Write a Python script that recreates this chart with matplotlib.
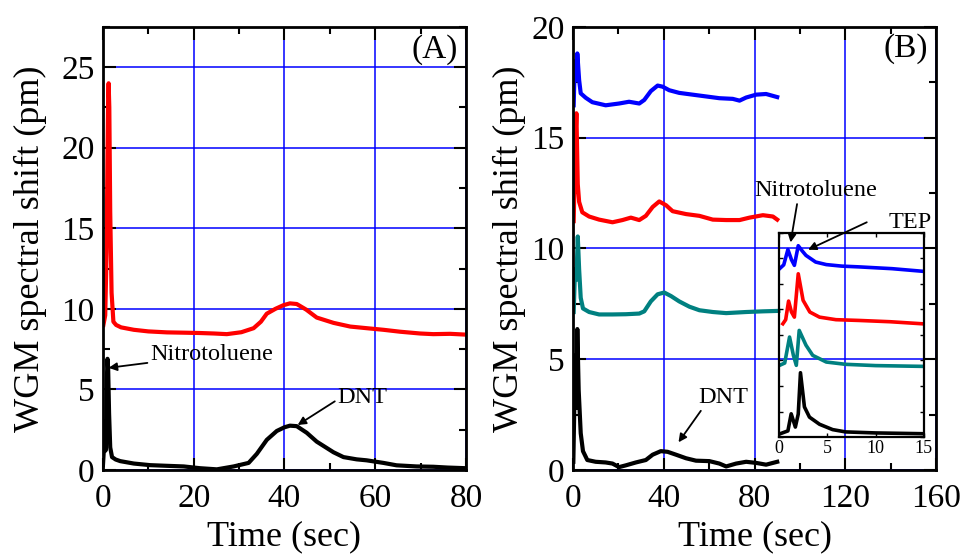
import matplotlib
matplotlib.use("Agg")
import matplotlib.pyplot as plt
from matplotlib.ticker import MultipleLocator, NullFormatter

plt.rcParams['font.family'] = ['Liberation Serif', 'DejaVu Serif']
plt.rcParams['mathtext.fontset'] = 'stix'

# ---------------- Panel A data ----------------
a_red_x = [0.1, 0.5, 0.8, 1.0, 1.15, 1.25, 1.4, 1.6, 1.9, 2.3, 2.9, 4.0, 6.8, 10, 14.1, 18, 21.4, 24.5, 27.3,
           30.5, 33.2, 34.8, 36.1, 38.0, 39.8, 41.2, 42.7, 44.8, 47.1, 50.8, 54.5, 58.1, 61.8, 65.5, 69.9, 72.8, 76.5, 80]
a_red_y = [9.0, 9.6, 13.5, 19.5, 23.2, 24.0, 22.5, 16.0, 11.0, 9.2, 9.0, 8.85, 8.7, 8.6, 8.54, 8.52, 8.5, 8.47, 8.43,
           8.55, 8.8, 9.2, 9.7, 10.0, 10.23, 10.34, 10.3, 9.95, 9.46, 9.13, 8.9, 8.8, 8.7, 8.58, 8.47, 8.43, 8.45, 8.4]

a_blk_x = [0.0, 0.25, 0.4, 0.55, 0.7, 0.85, 1.0, 1.15, 1.35, 1.6, 2.0, 2.8, 3.8, 6.8, 10.4, 14, 17.8, 21.4, 25.1, 28.8,
           32.1, 33.9, 36.1, 38.3, 40.0, 41.2, 42.7, 44.9, 47.1, 50.8, 53.0, 55.9, 58.1, 61.8, 64.7, 69.1, 72.8, 76, 80]
a_blk_y = [0.3, 1.5, 3.0, 1.2, 2.5, 5.5, 6.9, 6.2, 3.5, 1.4, 0.8, 0.65, 0.55, 0.4, 0.3, 0.26, 0.22, 0.11, 0.04, 0.22,
           0.44, 1.0, 1.87, 2.42, 2.65, 2.75, 2.72, 2.31, 1.76, 1.1, 0.8, 0.66, 0.6, 0.44, 0.29, 0.22, 0.2, 0.15, 0.11]

# ---------------- Panel B data ----------------
b_blue_x = [0.3, 0.7, 1.2, 1.5, 1.9, 2.7, 3.4, 5.6, 8.5, 14.4, 20.3, 24.7, 29.2, 31.4, 34.3, 37.3, 39.5, 42.4, 46.8,
            52.7, 58.6, 64.5, 70.4, 73.4, 76.3, 80.7, 85.1, 90]
b_blue_y = [16.46, 18.07, 18.47, 17.6, 18.8, 17.6, 17.0, 16.8, 16.6, 16.46, 16.54, 16.62, 16.54, 16.7, 17.1, 17.35,
            17.3, 17.14, 17.02, 16.94, 16.86, 16.78, 16.75, 16.67, 16.81, 16.94, 16.97, 16.83]

b_red_x = [0.3, 0.7, 1.1, 1.5, 2.1, 2.7, 4.1, 7.1, 11.5, 17.4, 21.8, 25.5, 29.2, 32.1, 35.1, 38.0, 41.0, 43.9, 49.8,
           55.7, 61.6, 67.5, 73.4, 77.8, 83.7, 88.1, 90]
b_red_y = [11.23, 13.2, 15.0, 16.1, 12.9, 12.1, 11.63, 11.44, 11.3, 11.18, 11.28, 11.39, 11.28, 11.47, 11.87, 12.12,
           11.95, 11.68, 11.55, 11.47, 11.3, 11.28, 11.28, 11.39, 11.5, 11.44, 11.3]

b_teal_x = [0.3, 0.9, 1.5, 2.1, 2.7, 3.4, 4.4, 7.1, 11.5, 17.4, 23.3, 29.2, 31.4, 34.3, 37.3, 40.2, 43.2, 46.8, 51.3,
            55.7, 61.6, 67.5, 76.3, 83.7, 90.5]
b_teal_y = [7.13, 9.06, 8.58, 10.54, 9.06, 7.77, 7.29, 7.13, 7.02, 7.02, 7.03, 7.06, 7.16, 7.61, 7.93, 8.01, 7.85,
            7.61, 7.37, 7.21, 7.13, 7.08, 7.13, 7.16, 7.18]

b_blk_x = [0.15, 0.7, 1.2, 1.5, 1.9, 2.5, 3.4, 4.4, 6.3, 10, 14.4, 17.4, 20.3, 23.3, 27.7, 32.1, 35.1, 38.7, 41.7,
           45.4, 49.8, 54.2, 60.1, 64.5, 67.5, 71.9, 76.3, 80.7, 85.1, 90]
b_blk_y = [0.37, 3.6, 5.2, 2.8, 6.36, 3.6, 1.66, 0.85, 0.45, 0.37, 0.34, 0.29, 0.13, 0.21, 0.34, 0.45, 0.69, 0.85,
           0.82, 0.69, 0.53, 0.42, 0.4, 0.29, 0.16, 0.29, 0.37, 0.32, 0.24, 0.37]

# ---------------- Inset data ----------------
i_blue_x = [0.07, 0.5, 0.93, 1.3, 1.6, 2.0, 2.4, 2.8, 3.8, 4.9, 6.5, 8.3, 11.7, 14.8]
i_blue_y = [6.6, 6.75, 7.35, 6.95, 6.73, 7.5, 7.3, 7.12, 6.86, 6.76, 6.7, 6.67, 6.6, 6.5]
i_red_x = [0.41, 0.7, 1.0, 1.3, 1.6, 2.0, 2.5, 3.2, 4.2, 5.9, 8.3, 11.5, 14.8]
i_red_y = [4.44, 4.6, 5.33, 4.9, 4.7, 6.4, 5.36, 4.9, 4.7, 4.6, 4.57, 4.52, 4.44]
i_teal_x = [0.07, 0.6, 1.1, 1.5, 1.8, 2.1, 2.8, 3.5, 4.9, 6.9, 10, 14.8]
i_teal_y = [2.81, 2.9, 3.92, 3.2, 2.81, 4.18, 3.6, 3.2, 2.94, 2.85, 2.8, 2.77]
i_blk_x = [0.14, 0.93, 1.27, 1.7, 2.0, 2.23, 2.64, 3.16, 4.2, 5.56, 6.9, 10, 14.8]
i_blk_y = [0.13, 0.24, 0.91, 0.39, 0.9, 2.52, 1.18, 0.78, 0.5, 0.29, 0.2, 0.16, 0.13]

TEAL = '#008080'
GRID = '#0000ff'
LW = 3.0

fig = plt.figure(figsize=(9.64, 5.56), dpi=100)
axA = fig.add_axes([0.1068, 0.1547, 0.3766, 0.797])
axB = fig.add_axes([0.5944, 0.1547, 0.3766, 0.797])


def style_main(ax, ylabelpad):
    for s in ax.spines.values():
        s.set_linewidth(2.0)
    ax.tick_params(which='both', direction='in', top=True, right=True, width=1.5)
    ax.tick_params(which='major', length=9, labelsize=24, pad=6)
    ax.tick_params(axis='x', which='major', pad=10)
    ax.tick_params(which='minor', length=5)
    ax.grid(True, which='major', color=GRID, linewidth=1.1)
    ax.set_axisbelow(True)
    ax.set_xlabel('Time (sec)', fontsize=26, labelpad=4)
    ax.set_ylabel('WGM spectral shift (pm)', fontsize=26, labelpad=ylabelpad)


# Panel A
axA.plot(a_red_x, a_red_y, color='red', lw=LW)
axA.plot(a_blk_x, a_blk_y, color='black', lw=LW)
axA.set_xlim(0, 80)
axA.set_ylim(0, 27.5)
axA.xaxis.set_major_locator(MultipleLocator(20))
axA.xaxis.set_minor_locator(MultipleLocator(10))
axA.yaxis.set_major_locator(MultipleLocator(5))
axA.yaxis.set_minor_locator(MultipleLocator(2.5))
style_main(axA, 10)
axA.text(68, 26.1, '(A)', fontsize=24, ha='left', va='center')
axA.annotate('Nitrotoluene', xy=(1.25, 6.34), xytext=(10.4, 7.15), fontsize=17.5, ha='left', va='center',
             arrowprops=dict(arrowstyle='-|>', color='black', lw=1.3, mutation_scale=12, shrinkA=0, shrinkB=0))
axA.annotate('DNT', xy=(42.9, 2.79), xytext=(51.7, 4.5), fontsize=17.5, ha='left', va='center',
             arrowprops=dict(arrowstyle='-|>', color='black', lw=1.3, mutation_scale=12, shrinkA=0, shrinkB=0,
                             relpos=(0, 0.4)))

# Panel B
axB.plot(b_blue_x, b_blue_y, color='blue', lw=LW)
axB.plot(b_red_x, b_red_y, color='red', lw=LW)
axB.plot(b_teal_x, b_teal_y, color=TEAL, lw=LW)
axB.plot(b_blk_x, b_blk_y, color='black', lw=LW)
axB.set_xlim(0, 160)
axB.set_ylim(0, 20)
axB.xaxis.set_major_locator(MultipleLocator(40))
axB.xaxis.set_minor_locator(MultipleLocator(20))
axB.yaxis.set_major_locator(MultipleLocator(5))
axB.yaxis.set_minor_locator(MultipleLocator(2.5))
style_main(axB, 4)
axB.text(137, 19.0, '(B)', fontsize=24, ha='left', va='center')
axB.annotate('Nitrotoluene', xy=(95.9, 10.27), xytext=(80, 12.6), fontsize=17.5, ha='left', va='center',
             arrowprops=dict(arrowstyle='-|>', color='black', lw=1.3, mutation_scale=12, shrinkA=0, shrinkB=0,
                             relpos=(0.35, 0.0)))
axB.annotate('TEP', xy=(103.6, 9.94), xytext=(139, 11.18), fontsize=17.5, ha='left', va='center',
             arrowprops=dict(arrowstyle='-|>', color='black', lw=1.3, mutation_scale=12, shrinkA=0, shrinkB=0,
                             relpos=(-0.5, 0.5)))
axB.annotate('DNT', xy=(46.5, 1.25), xytext=(55, 3.27), fontsize=17.5, ha='left', va='center',
             arrowprops=dict(arrowstyle='-|>', color='black', lw=1.3, mutation_scale=12, shrinkA=0, shrinkB=0,
                             relpos=(0.1, 0.0)))

# Inset
axI = fig.add_axes([0.808, 0.214, 0.1504, 0.367])
axI.patch.set_alpha(0)
axI.plot(i_blue_x, i_blue_y, color='blue', lw=2.6)
axI.plot(i_red_x, i_red_y, color='red', lw=2.6)
axI.plot(i_teal_x, i_teal_y, color=TEAL, lw=2.6)
axI.plot(i_blk_x, i_blk_y, color='black', lw=2.6)
axI.set_xlim(0, 15)
axI.set_ylim(0, 8)
axI.xaxis.set_major_locator(MultipleLocator(5))
axI.yaxis.set_major_locator(MultipleLocator(1))
axI.yaxis.set_major_formatter(NullFormatter())
for s in axI.spines.values():
    s.set_linewidth(1.6)
axI.tick_params(which='both', direction='in', top=True, right=True, width=1.0, length=3,
                labelsize=13, pad=2)

fig.savefig('out.png', dpi=100)
